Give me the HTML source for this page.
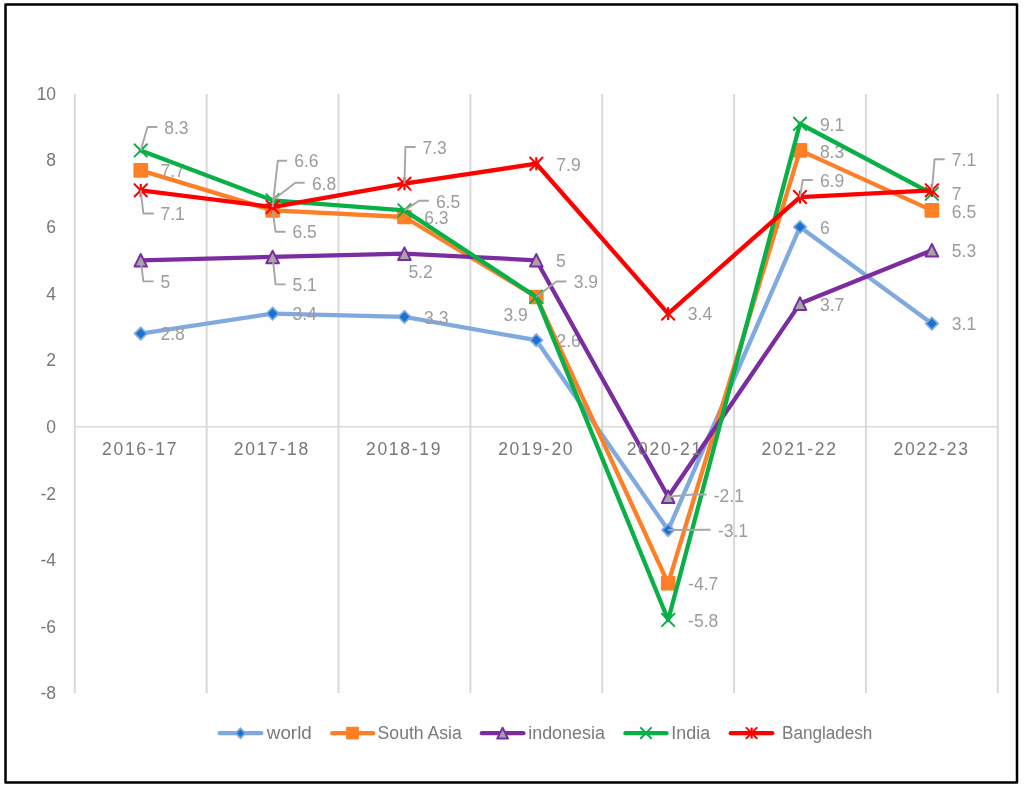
<!DOCTYPE html>
<html lang="en"><head><meta charset="utf-8"><title>GDP growth chart</title>
<style>
html,body{margin:0;padding:0;background:#fefefe;}
body{width:1024px;height:790px;overflow:hidden;font-family:"Liberation Sans",sans-serif;}
svg{display:block;will-change:transform}
text{font-family:"Liberation Sans",sans-serif;}
.ax{fill:#787878;font-size:17.5px}
.dl{fill:#9c9c9c;font-size:17.5px}
.lg{fill:#7a7a7a;font-size:18px}
.ld{fill:none;stroke:#a6a6a6;stroke-width:1.9;stroke-linejoin:round}
</style></head><body>
<svg width="1024" height="790" viewBox="0 0 1024 790">
<rect x="0" y="0" width="1024" height="790" fill="#fefefe"/>
<rect x="5.5" y="4.4" width="1011.5" height="778.1" fill="#fefefe" stroke="#000" stroke-width="2.5" stroke-linejoin="round"/>

<g stroke="#d9d9d9" stroke-width="2">
<line x1="74.8" y1="93.9" x2="74.8" y2="692.9"/>
<line x1="206.66" y1="93.9" x2="206.66" y2="692.9"/>
<line x1="338.51" y1="93.9" x2="338.51" y2="692.9"/>
<line x1="470.37" y1="93.9" x2="470.37" y2="692.9"/>
<line x1="602.23" y1="93.9" x2="602.23" y2="692.9"/>
<line x1="734.09" y1="93.9" x2="734.09" y2="692.9"/>
<line x1="865.94" y1="93.9" x2="865.94" y2="692.9"/>
<line x1="997.8" y1="93.9" x2="997.8" y2="692.9"/>
</g>
<line x1="74.8" y1="426.8" x2="997.8" y2="426.8" stroke="#d9d9d9" stroke-width="1.4"/>
<text class="ax" x="56.1" y="99.7" text-anchor="end">10</text>
<text class="ax" x="56.1" y="166.34" text-anchor="end">8</text>
<text class="ax" x="56.1" y="232.98" text-anchor="end">6</text>
<text class="ax" x="56.1" y="299.62" text-anchor="end">4</text>
<text class="ax" x="56.1" y="366.26" text-anchor="end">2</text>
<text class="ax" x="56.1" y="432.9" text-anchor="end">0</text>
<text class="ax" x="56.1" y="499.54" text-anchor="end">-2</text>
<text class="ax" x="56.1" y="566.18" text-anchor="end">-4</text>
<text class="ax" x="56.1" y="632.82" text-anchor="end">-6</text>
<text class="ax" x="56.1" y="699.46" text-anchor="end">-8</text>
<polyline points="140.73,333.56 272.59,313.58 404.44,316.91 536.3,340.22 668.16,530.03 800.01,227 931.87,323.57" fill="none" stroke="#80a9df" stroke-width="4.3" stroke-linejoin="round" stroke-linecap="round"/>
<path d="M140.73 327.41L146.88 333.56L140.73 339.71L134.58 333.56Z" fill="#1b72cd" stroke="#80a9df" stroke-width="1.7"/>
<path d="M272.59 307.43L278.74 313.58L272.59 319.73L266.44 313.58Z" fill="#1b72cd" stroke="#80a9df" stroke-width="1.7"/>
<path d="M404.44 310.76L410.59 316.91L404.44 323.06L398.29 316.91Z" fill="#1b72cd" stroke="#80a9df" stroke-width="1.7"/>
<path d="M536.3 334.07L542.45 340.22L536.3 346.37L530.15 340.22Z" fill="#1b72cd" stroke="#80a9df" stroke-width="1.7"/>
<path d="M668.16 523.88L674.31 530.03L668.16 536.18L662.01 530.03Z" fill="#1b72cd" stroke="#80a9df" stroke-width="1.7"/>
<path d="M800.01 220.85L806.16 227L800.01 233.15L793.86 227Z" fill="#1b72cd" stroke="#80a9df" stroke-width="1.7"/>
<path d="M931.87 317.42L938.02 323.57L931.87 329.72L925.72 323.57Z" fill="#1b72cd" stroke="#80a9df" stroke-width="1.7"/>
<text class="dl" x="160.5" y="340.2">2.8</text>
<text class="dl" x="292.5" y="320.3">3.4</text>
<text class="dl" x="424.1" y="323.6">3.3</text>
<text class="dl" x="556.5" y="346.7">2.6</text>
<text class="dl" x="717.9" y="537">-3.1</text>
<text class="dl" x="820" y="233.8">6</text>
<text class="dl" x="951.8" y="330.3">3.1</text>
<polyline points="140.73,170.39 272.59,210.35 404.44,217.01 536.3,296.93 668.16,583.31 800.01,150.41 931.87,210.35" fill="none" stroke="#ff7f27" stroke-width="4.3" stroke-linejoin="round" stroke-linecap="round"/>
<rect x="134.43" y="164.09" width="12.6" height="12.6" fill="#ff7f27" stroke="#ff7f27" stroke-width="2" stroke-linejoin="round"/>
<rect x="266.29" y="204.05" width="12.6" height="12.6" fill="#ff7f27" stroke="#ff7f27" stroke-width="2" stroke-linejoin="round"/>
<rect x="398.14" y="210.71" width="12.6" height="12.6" fill="#ff7f27" stroke="#ff7f27" stroke-width="2" stroke-linejoin="round"/>
<rect x="530" y="290.63" width="12.6" height="12.6" fill="#ff7f27" stroke="#ff7f27" stroke-width="2" stroke-linejoin="round"/>
<rect x="661.86" y="577.01" width="12.6" height="12.6" fill="#ff7f27" stroke="#ff7f27" stroke-width="2" stroke-linejoin="round"/>
<rect x="793.71" y="144.11" width="12.6" height="12.6" fill="#ff7f27" stroke="#ff7f27" stroke-width="2" stroke-linejoin="round"/>
<rect x="925.57" y="204.05" width="12.6" height="12.6" fill="#ff7f27" stroke="#ff7f27" stroke-width="2" stroke-linejoin="round"/>
<text class="dl" x="160.5" y="177.2">7.7</text>
<text class="dl" x="292.5" y="238.4">6.5</text>
<text class="dl" x="424.2" y="223.5">6.3</text>
<text class="dl" x="503.4" y="321.2">3.9</text>
<text class="dl" x="688.1" y="589.8">-4.7</text>
<text class="dl" x="819.9" y="157.8">8.3</text>
<text class="dl" x="951.8" y="217.5">6.5</text>
<polyline points="140.73,260.3 272.59,256.97 404.44,253.64 536.3,260.3 668.16,496.73 800.01,303.59 931.87,250.31" fill="none" stroke="#7b2ca0" stroke-width="4.3" stroke-linejoin="round" stroke-linecap="round"/>
<path d="M140.73 254L147.03 266.6L134.43 266.6Z" fill="#a5a5a5" stroke="#7b2ca0" stroke-width="2" stroke-linejoin="round"/>
<path d="M272.59 250.67L278.89 263.27L266.29 263.27Z" fill="#a5a5a5" stroke="#7b2ca0" stroke-width="2" stroke-linejoin="round"/>
<path d="M404.44 247.34L410.74 259.94L398.14 259.94Z" fill="#a5a5a5" stroke="#7b2ca0" stroke-width="2" stroke-linejoin="round"/>
<path d="M536.3 254L542.6 266.6L530 266.6Z" fill="#a5a5a5" stroke="#7b2ca0" stroke-width="2" stroke-linejoin="round"/>
<path d="M668.16 490.43L674.46 503.03L661.86 503.03Z" fill="#a5a5a5" stroke="#7b2ca0" stroke-width="2" stroke-linejoin="round"/>
<path d="M800.01 297.29L806.31 309.89L793.71 309.89Z" fill="#a5a5a5" stroke="#7b2ca0" stroke-width="2" stroke-linejoin="round"/>
<path d="M931.87 244.01L938.17 256.61L925.57 256.61Z" fill="#a5a5a5" stroke="#7b2ca0" stroke-width="2" stroke-linejoin="round"/>
<text class="dl" x="160.5" y="288.3">5</text>
<text class="dl" x="292.5" y="290.7">5.1</text>
<text class="dl" x="408.4" y="278">5.2</text>
<text class="dl" x="556" y="267.3">5</text>
<text class="dl" x="713.8" y="501.7">-2.1</text>
<text class="dl" x="820" y="310.5">3.7</text>
<text class="dl" x="951.8" y="257.2">5.3</text>
<polyline points="140.73,150.41 272.59,200.36 404.44,210.35 536.3,296.93 668.16,619.94 800.01,123.77 931.87,193.7" fill="none" stroke="#08b047" stroke-width="4.3" stroke-linejoin="round" stroke-linecap="round"/>
<path d="M134.53 144.21L146.93 156.61M146.93 144.21L134.53 156.61" fill="none" stroke="#08b047" stroke-width="2" stroke-linecap="round"/>
<path d="M266.39 194.16L278.79 206.56M278.79 194.16L266.39 206.56" fill="none" stroke="#08b047" stroke-width="2" stroke-linecap="round"/>
<path d="M398.24 204.15L410.64 216.55M410.64 204.15L398.24 216.55" fill="none" stroke="#08b047" stroke-width="2" stroke-linecap="round"/>
<path d="M530.1 290.73L542.5 303.13M542.5 290.73L530.1 303.13" fill="none" stroke="#08b047" stroke-width="2" stroke-linecap="round"/>
<path d="M661.96 613.74L674.36 626.14M674.36 613.74L661.96 626.14" fill="none" stroke="#08b047" stroke-width="2" stroke-linecap="round"/>
<path d="M793.81 117.57L806.21 129.97M806.21 117.57L793.81 129.97" fill="none" stroke="#08b047" stroke-width="2" stroke-linecap="round"/>
<path d="M925.67 187.5L938.07 199.9M938.07 187.5L925.67 199.9" fill="none" stroke="#08b047" stroke-width="2" stroke-linecap="round"/>
<text class="dl" x="164.2" y="133.6">8.3</text>
<text class="dl" x="312" y="189.6">6.8</text>
<text class="dl" x="435.9" y="207.5">6.5</text>
<text class="dl" x="573.7" y="288">3.9</text>
<text class="dl" x="688.1" y="626.8">-5.8</text>
<text class="dl" x="819.9" y="130.7">9.1</text>
<text class="dl" x="951.8" y="200.3">7</text>
<polyline points="140.73,190.37 272.59,207.02 404.44,183.71 536.3,163.73 668.16,313.58 800.01,197.03 931.87,190.37" fill="none" stroke="#ff0000" stroke-width="4.3" stroke-linejoin="round" stroke-linecap="round"/>
<path d="M134.53 184.17L146.93 196.57M146.93 184.17L134.53 196.57" fill="none" stroke="#ff0000" stroke-width="2" stroke-linecap="round"/><path d="M140.73 183.87L140.73 196.87" fill="none" stroke="#ff0000" stroke-width="2.2"/>
<path d="M266.39 200.82L278.79 213.22M278.79 200.82L266.39 213.22" fill="none" stroke="#ff0000" stroke-width="2" stroke-linecap="round"/><path d="M272.59 200.52L272.59 213.52" fill="none" stroke="#ff0000" stroke-width="2.2"/>
<path d="M398.24 177.51L410.64 189.91M410.64 177.51L398.24 189.91" fill="none" stroke="#ff0000" stroke-width="2" stroke-linecap="round"/><path d="M404.44 177.21L404.44 190.21" fill="none" stroke="#ff0000" stroke-width="2.2"/>
<path d="M530.1 157.53L542.5 169.93M542.5 157.53L530.1 169.93" fill="none" stroke="#ff0000" stroke-width="2" stroke-linecap="round"/><path d="M536.3 157.23L536.3 170.23" fill="none" stroke="#ff0000" stroke-width="2.2"/>
<path d="M661.96 307.38L674.36 319.78M674.36 307.38L661.96 319.78" fill="none" stroke="#ff0000" stroke-width="2" stroke-linecap="round"/><path d="M668.16 307.08L668.16 320.08" fill="none" stroke="#ff0000" stroke-width="2.2"/>
<path d="M793.81 190.83L806.21 203.23M806.21 190.83L793.81 203.23" fill="none" stroke="#ff0000" stroke-width="2" stroke-linecap="round"/><path d="M800.01 190.53L800.01 203.53" fill="none" stroke="#ff0000" stroke-width="2.2"/>
<path d="M925.67 184.17L938.07 196.57M938.07 184.17L925.67 196.57" fill="none" stroke="#ff0000" stroke-width="2" stroke-linecap="round"/><path d="M931.87 183.87L931.87 196.87" fill="none" stroke="#ff0000" stroke-width="2.2"/>
<text class="dl" x="160.5" y="220.2">7.1</text>
<text class="dl" x="294.2" y="167">6.6</text>
<text class="dl" x="422.5" y="153.8">7.3</text>
<text class="dl" x="556.3" y="170.6">7.9</text>
<text class="dl" x="687.8" y="320.4">3.4</text>
<text class="dl" x="819.9" y="186.9">6.9</text>
<text class="dl" x="951.8" y="166.1">7.1</text>
<polyline class="ld" points="668.16,530.03 710.5,529.8"/>
<polyline class="ld" points="272.59,210.35 275.6,231.8 285.6,231.8"/>
<polyline class="ld" points="140.73,260.3 143.4,281.4 153.7,281.4"/>
<polyline class="ld" points="272.59,256.97 275.6,284.4 285.6,284.4"/>
<polyline class="ld" points="668.16,496.73 693,494.5 706.6,494.5"/>
<polyline class="ld" points="140.73,150.41 147.5,127 157.5,127"/>
<polyline class="ld" points="272.59,200.36 295.4,182.8 304.7,182.8"/>
<polyline class="ld" points="404.44,210.35 419.1,200.7 428.8,200.7"/>
<polyline class="ld" points="536.3,296.93 556.5,281.5 566.4,281.5"/>
<polyline class="ld" points="140.73,190.37 143.4,213.5 153.7,213.5"/>
<polyline class="ld" points="272.59,207.02 277.8,160.7 287.1,160.7"/>
<polyline class="ld" points="404.44,183.71 405.4,147 415.6,147"/>
<polyline class="ld" points="800.01,197.03 802.7,180 812.8,180"/>
<polyline class="ld" points="931.87,190.37 934.6,159.2 944.7,159.2"/>
<text class="ax" x="140.13" y="454.9" text-anchor="middle" letter-spacing="1.7">2016-17</text>
<text class="ax" x="271.89" y="454.9" text-anchor="middle" letter-spacing="1.7">2017-18</text>
<text class="ax" x="404.04" y="454.9" text-anchor="middle" letter-spacing="1.7">2018-19</text>
<text class="ax" x="536.2" y="454.9" text-anchor="middle" letter-spacing="1.7">2019-20</text>
<text class="ax" x="664.76" y="454.9" text-anchor="middle" letter-spacing="1.7">2020-21</text>
<text class="ax" x="799.51" y="454.9" text-anchor="middle" letter-spacing="1.7">2021-22</text>
<text class="ax" x="931.57" y="454.9" text-anchor="middle" letter-spacing="1.7">2022-23</text>
<line x1="219.6" y1="733.2" x2="261.3" y2="733.2" stroke="#80a9df" stroke-width="4.2" stroke-linecap="round"/>
<path d="M240.5 728.3L245.4 733.2L240.5 738.1L235.6 733.2Z" fill="#1b72cd" stroke="#80a9df" stroke-width="1.85"/>
<text class="lg" x="266.8" y="738.8" textLength="45" lengthAdjust="spacingAndGlyphs">world</text>
<line x1="332.1" y1="733.2" x2="373.2" y2="733.2" stroke="#ff7f27" stroke-width="4.2" stroke-linecap="round"/>
<rect x="347.08" y="727.78" width="10.84" height="10.84" fill="#ff7f27" stroke="#ff7f27" stroke-width="2" stroke-linejoin="round"/>
<text class="lg" x="377.6" y="738.8" textLength="84.2" lengthAdjust="spacingAndGlyphs">South Asia</text>
<line x1="481.8" y1="733.2" x2="523.4" y2="733.2" stroke="#7b2ca0" stroke-width="4.2" stroke-linecap="round"/>
<path d="M502.6 727.78L508.02 738.62L497.18 738.62Z" fill="#a5a5a5" stroke="#7b2ca0" stroke-width="2" stroke-linejoin="round"/>
<text class="lg" x="528.2" y="738.8" textLength="76.7" lengthAdjust="spacingAndGlyphs">indonesia</text>
<line x1="625.4" y1="733.2" x2="666.5" y2="733.2" stroke="#08b047" stroke-width="4.2" stroke-linecap="round"/>
<path d="M640.85 727.9L651.15 738.2M651.15 727.9L640.85 738.2" fill="none" stroke="#08b047" stroke-width="2" stroke-linecap="round"/>
<text class="lg" x="671.3" y="738.8" textLength="38.8" lengthAdjust="spacingAndGlyphs">India</text>
<line x1="730.7" y1="733.2" x2="772.3" y2="733.2" stroke="#ff0000" stroke-width="4.2" stroke-linecap="round"/>
<path d="M746.45 727.9L756.75 738.2M756.75 727.9L746.45 738.2" fill="none" stroke="#ff0000" stroke-width="2" stroke-linecap="round"/><path d="M751.6 727.6L751.6 738.5" fill="none" stroke="#ff0000" stroke-width="2.2"/>
<text class="lg" x="782" y="738.8" textLength="90.4" lengthAdjust="spacingAndGlyphs">Bangladesh</text>
</svg></body></html>
